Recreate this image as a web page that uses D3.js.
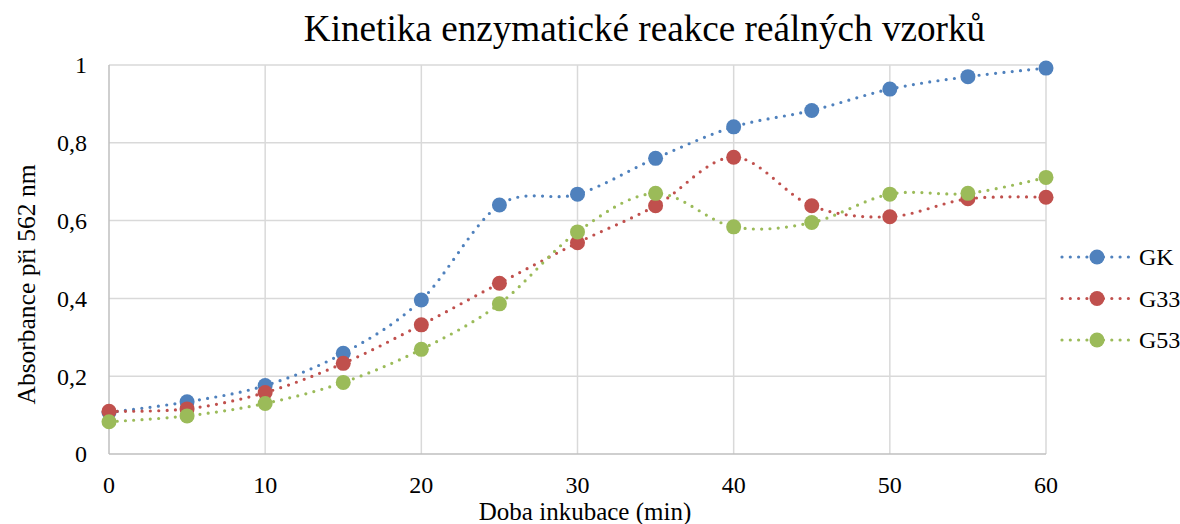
<!DOCTYPE html>
<html>
<head>
<meta charset="utf-8">
<script src="https://cdn.jsdelivr.net/npm/d3@7"></script>
<style>
  html, body { margin: 0; padding: 0; background: #fff; }
  svg { display: block; font-family: "Liberation Serif", "Times New Roman", serif; }
</style>
</head>
<body>
<svg id="chart" width="1180" height="524"></svg>
<script>
// Incubation times (min)
const times = [0, 5, 10, 15, 20, 25, 30, 35, 40, 45, 50, 55, 60];
// Absorbance at 562 nm for each sample
const gk  = [0.107, 0.134, 0.176, 0.259, 0.396, 0.640, 0.668, 0.760, 0.841, 0.883, 0.938, 0.970, 0.992];
const g33 = [0.110, 0.116, 0.158, 0.233, 0.332, 0.439, 0.543, 0.638, 0.763, 0.638, 0.610, 0.656, 0.660];
const g53 = [0.083, 0.098, 0.130, 0.184, 0.269, 0.386, 0.571, 0.670, 0.584, 0.595, 0.668, 0.670, 0.711];
const seriesNames = ["GK", "G33", "G53"];
const seriesColors = ["#4F81BD", "#C0504D", "#9BBB59"];
const xTicks = [0, 10, 20, 30, 40, 50, 60];
const yTicks = [0, 0.2, 0.4, 0.6, 0.8, 1];

const title = "Kinetika enzymatické reakce reálných vzorků";
const xTitle = "Doba inkubace (min)";
const yTitle = "Absorbance při 562 nm";

const series = [gk, g33, g53].map((vals, i) => ({
  name: seriesNames[i],
  color: seriesColors[i],
  points: vals.map((v, j) => ({ t: times[j], v }))
}));

const svg = d3.select("#chart");
const plot = { left: 109, right: 1046, top: 65, bottom: 454 };

const x = d3.scaleLinear().domain([0, 60]).range([plot.left, plot.right]);
const y = d3.scaleLinear().domain([0, 1]).range([plot.bottom, plot.top]);
const fmt = d => d3.format(".1~f")(d).replace(".", ",");

// Grid lines
const grid = svg.append("g");
grid.selectAll("line.h").data(yTicks.slice(1)).join("line")
  .attr("x1", plot.left).attr("x2", plot.right)
  .attr("y1", d => y(d)).attr("y2", d => y(d))
  .attr("stroke", "#d9d9d9").attr("stroke-width", 1.5);
grid.selectAll("line.v").data(xTicks.slice(1)).join("line")
  .attr("y1", plot.top).attr("y2", plot.bottom)
  .attr("x1", d => x(d)).attr("x2", d => x(d))
  .attr("stroke", "#d9d9d9").attr("stroke-width", 1.5);

// Axes lines
svg.append("line").attr("x1", plot.left).attr("x2", plot.left)
  .attr("y1", plot.top).attr("y2", plot.bottom)
  .attr("stroke", "#bfbfbf").attr("stroke-width", 1.5);
svg.append("line").attr("x1", plot.left).attr("x2", plot.right)
  .attr("y1", plot.bottom).attr("y2", plot.bottom)
  .attr("stroke", "#bfbfbf").attr("stroke-width", 1.5);

// Tick labels
svg.append("g").selectAll("text").data(yTicks).join("text")
  .attr("x", 87).attr("y", d => y(d)).attr("dy", "0.35em")
  .attr("text-anchor", "end").attr("font-size", 24).attr("fill", "#000")
  .text(fmt);
svg.append("g").selectAll("text").data(xTicks).join("text")
  .attr("x", d => x(d)).attr("y", 493)
  .attr("text-anchor", "middle").attr("font-size", 24).attr("fill", "#000")
  .text(d => d);

// Titles
svg.append("text").attr("x", 644.5).attr("y", 41).attr("text-anchor", "middle")
  .attr("font-size", 37.2).attr("fill", "#000").text(title);
svg.append("text").attr("x", 585).attr("y", 520).attr("text-anchor", "middle")
  .attr("font-size", 25).attr("fill", "#000").text(xTitle);
svg.append("text").attr("transform", "translate(35,284.5) rotate(-90)")
  .attr("text-anchor", "middle").attr("font-size", 25.5).attr("fill", "#000").text(yTitle);

// Smoothed dotted lines with markers
const line = d3.line().x(d => x(d.t)).y(d => y(d.v)).curve(d3.curveCardinal.tension(0));
const sg = svg.append("g").selectAll("g").data(series).join("g");
sg.append("path")
  .attr("d", d => line(d.points))
  .attr("fill", "none").attr("stroke", d => d.color)
  .attr("stroke-width", 3.2).attr("stroke-linecap", "round")
  .attr("stroke-dasharray", "0 8.3");
sg.selectAll("circle").data(d => d.points.map(p => ({ ...p, color: d.color }))).join("circle")
  .attr("cx", d => x(d.t)).attr("cy", d => y(d.v)).attr("r", 7.5)
  .attr("fill", d => d.color);

// Legend
const legend = svg.append("g").selectAll("g").data(series).join("g")
  .attr("transform", (d, i) => `translate(1062,${257 + i * 41.5})`);
legend.append("line").attr("x1", 0).attr("x2", 70).attr("y1", 0).attr("y2", 0)
  .attr("stroke", d => d.color).attr("stroke-width", 3.2)
  .attr("stroke-linecap", "round").attr("stroke-dasharray", "0 8.3");
legend.append("circle").attr("cx", 35).attr("cy", 0).attr("r", 7.5).attr("fill", d => d.color);
legend.append("text").attr("x", 77).attr("y", 0).attr("dy", "0.35em")
  .attr("font-size", 24).attr("fill", "#000").text(d => d.name);
</script>
</body>
</html>
